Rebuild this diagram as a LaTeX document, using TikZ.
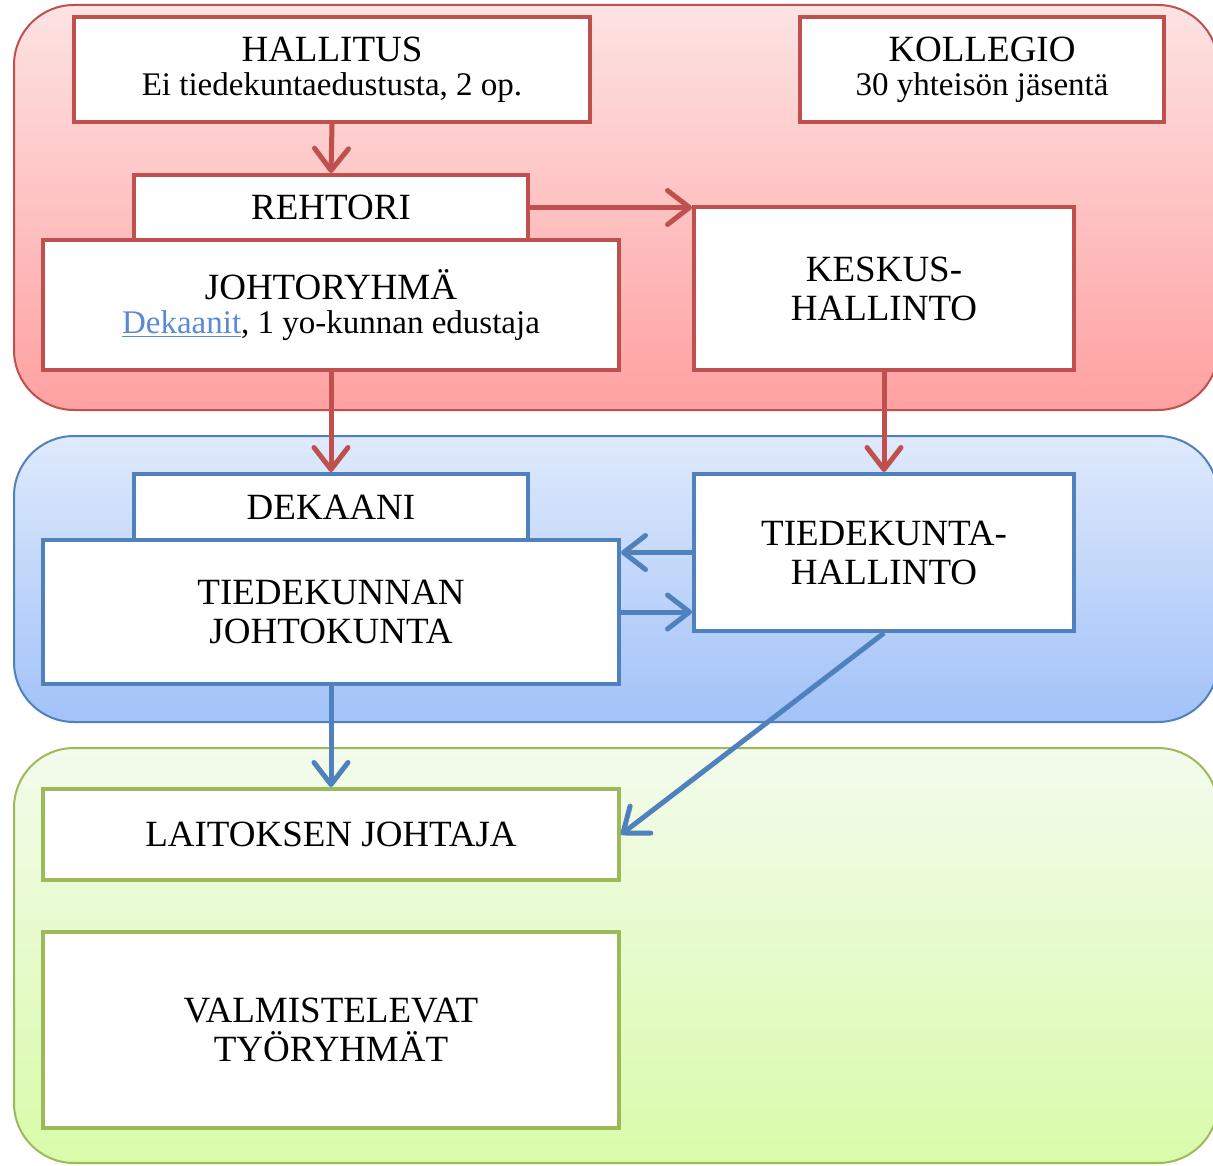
\documentclass[tikz,border=0pt]{standalone}
\usepackage{fontspec}
\setmainfont{Liberation Serif}
\usetikzlibrary{arrows.meta,calc}
\definecolor{rd}{HTML}{C0504D}
\definecolor{bl}{HTML}{4F81BD}
\definecolor{gr}{HTML}{9BBB59}
\definecolor{redtop}{HTML}{FDE3E3}
\definecolor{redbot}{HTML}{FFA1A1}
\definecolor{bluetop}{HTML}{DFEAFB}
\definecolor{bluebot}{HTML}{A2C2F9}
\definecolor{greentop}{HTML}{F3FBEC}
\definecolor{greenbot}{HTML}{D9FBA9}
\definecolor{linkblue}{HTML}{5A8AD6}
\newcommand\mytitle{\fontsize{18.5}{19.5}\selectfont}
\newcommand\mysub{\fontsize{16.5}{18}\selectfont}
\begin{document}
\begin{tikzpicture}[x=0.5pt,y=-0.5pt,
  panel/.style={line width=1pt, rounded corners=30pt},
  box/.style={draw, line width=2pt, fill=white, align=center, inner sep=0pt, font=\mytitle},
  redbox/.style={box, draw=rd},
  bluebox/.style={box, draw=bl},
  greenbox/.style={box, draw=gr},
  arr/.style={line width=2.5pt, -{Straight Barb[length=11pt,width=17pt,round]}},
  redarr/.style={arr, draw=rd},
  bluearr/.style={arr, draw=bl}]
\useasboundingbox (0,0) rectangle (1213,1165);
\clip (0,0) rectangle (1213,1165);
% panels
\path[panel, draw=rd, top color=redtop, bottom color=redbot] (14,5) rectangle (1218,410);
\path[panel, draw=bl, top color=bluetop, bottom color=bluebot] (14,436) rectangle (1218,722);
\path[panel, draw=gr, top color=greentop, bottom color=greenbot] (14,748) rectangle (1218,1163);
% red level
\node[redbox, minimum width=258pt, minimum height=52.5pt] (hallitus) at (332,69.5)
  {HALLITUS\\[-2.5pt]{\mysub Ei tiedekuntaedustusta, 2 op.}};
\node[redbox, minimum width=182pt, minimum height=52.5pt] (kollegio) at (982,69.5)
  {KOLLEGIO\\[-2.5pt]{\mysub 30 yhteisön jäsentä}};
\node[redbox, minimum width=197pt, minimum height=32.5pt] (rehtori) at (331,207.5) {REHTORI};
\node[redbox, minimum width=288pt, minimum height=65pt] (johtoryhma) at (331,305)
  {JOHTORYHMÄ\\[-2.5pt]{\mysub\textcolor{linkblue}{\underline{Dekaanit}}, 1 yo-kunnan edustaja}};
\node[redbox, minimum width=190pt, minimum height=81.5pt] (keskus) at (884,288.5)
  {KESKUS-\\HALLINTO};
% blue level
\node[bluebox, minimum width=197pt, minimum height=33pt] (dekaani) at (331,507) {DEKAANI};
\node[bluebox, minimum width=288pt, minimum height=72pt] (tjk) at (331,612)
  {TIEDEKUNNAN\\JOHTOKUNTA};
\node[bluebox, minimum width=190pt, minimum height=78.5pt] (tdk) at (884,552.5)
  {TIEDEKUNTA-\\HALLINTO};
% green level
\node[greenbox, minimum width=288pt, minimum height=45.5pt] (laitos) at (331,834.5)
  {LAITOKSEN JOHTAJA};
\node[greenbox, minimum width=288pt, minimum height=98pt] (valm) at (331,1030)
  {VALMISTELEVAT\\TYÖRYHMÄT};
% connectors
\draw[redarr] (hallitus.south) -- (rehtori.north);
\draw[redarr] (rehtori.east) -- (rehtori.east -| keskus.north west);
\draw[redarr] (johtoryhma.south) -- (dekaani.north);
\draw[redarr] (keskus.south) -- (tdk.north);
\draw[bluearr] (tdk.west) -- (tdk.west -| tjk.east);
\draw[bluearr] (tjk.east) -- (tjk.east -| tdk.west);
\draw[bluearr] (tjk.south) -- (laitos.north);
\draw[bluearr] (tdk.south) -- (laitos.east);
\end{tikzpicture}
\end{document}
